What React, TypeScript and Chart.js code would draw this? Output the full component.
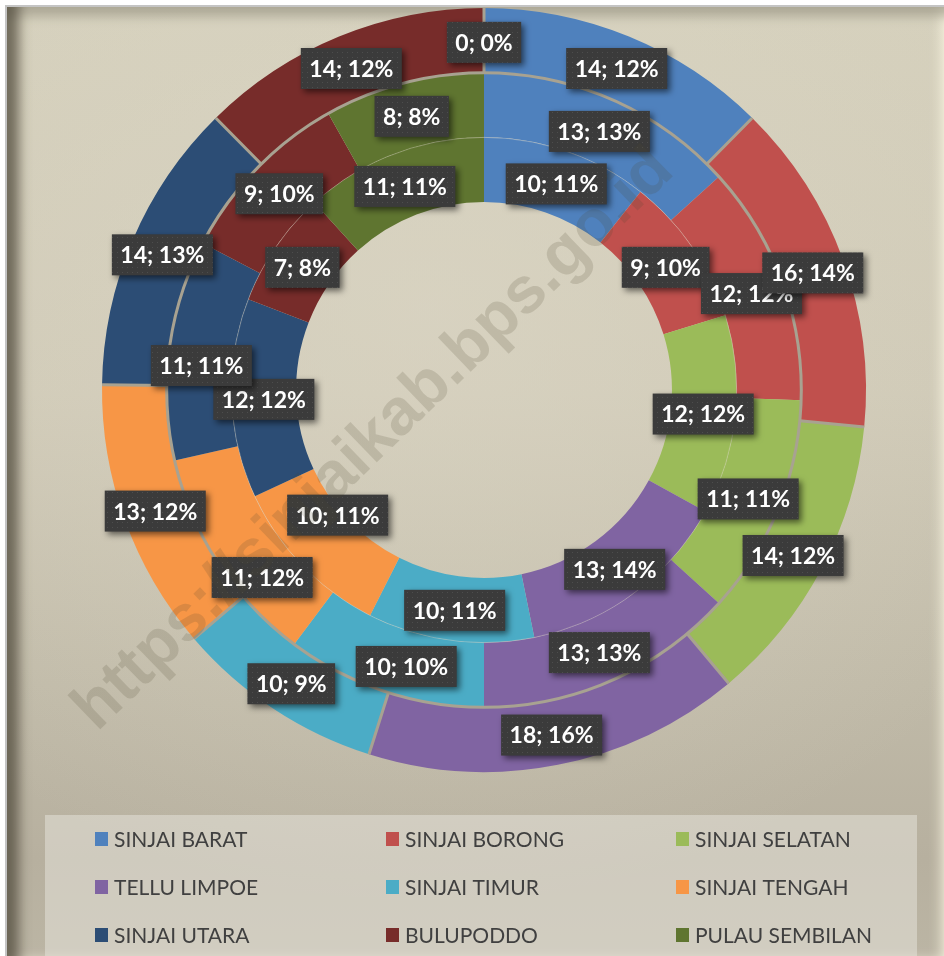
import React, { useEffect, useRef } from "react";
import { Chart, registerables } from "chart.js";

Chart.register(...registerables);

const categories = [
  "SINJAI BARAT",
  "SINJAI BORONG",
  "SINJAI SELATAN",
  "TELLU LIMPOE",
  "SINJAI TIMUR",
  "SINJAI TENGAH",
  "SINJAI UTARA",
  "BULUPODDO",
  "PULAU SEMBILAN",
];
const colors = ["#4F81BD", "#C0504D", "#9BBB59", "#8064A2", "#4BACC6", "#F79646", "#2C4D75", "#772C2A", "#5F7530"];

const outerValues = [14, 16, 14, 18, 10, 13, 14, 14, 0];
const outerPct = [12, 14, 12, 16, 9, 12, 13, 12, 0];
const middleValues = [13, 12, 11, 13, 10, 11, 11, 9, 8];
const middlePct = [13, 12, 11, 13, 10, 12, 11, 10, 8];
const innerValues = [10, 9, 12, 13, 10, 10, 12, 7, 11];
const innerPct = [11, 10, 12, 14, 11, 11, 12, 8, 11];
const pctSets = [outerPct, middlePct, innerPct];

// manual label nudges (ring-index -> [dx, dy]) as placed in the original
const labelNudges: Record<string, [number, number]> = {
  "1-4": [12, 4],
  "1-5": [17, 30],
  "1-6": [0, 10],
  "2-5": [12, -30],
};

const watermarkText = "https://sinjaikab.bps.go.id";

function makePattern(ctx: CanvasRenderingContext2D) {
  const c = document.createElement("canvas");
  c.width = 5;
  c.height = 5;
  const p = c.getContext("2d")!;
  p.fillStyle = "#3b3b3b";
  p.fillRect(0, 0, 5, 5);
  p.fillStyle = "#4d4d4d";
  p.fillRect(2, 2, 1, 1);
  return ctx.createPattern(c, "repeat");
}

const labelPlugin = {
  id: "boxLabels",
  afterDatasetsDraw(chart: any) {
    const ctx: CanvasRenderingContext2D = chart.ctx;
    // faint line between middle and inner ring
    const im = chart.getDatasetMeta(2);
    if (im.data.length) {
      const a: any = im.data[0];
      ctx.save();
      ctx.beginPath();
      ctx.arc(a.x, a.y, a.outerRadius, 0, Math.PI * 2);
      ctx.strokeStyle = "rgba(225,220,205,0.35)";
      ctx.lineWidth = 1;
      ctx.stroke();
      ctx.restore();
    }
    // gray separators of the outer ring
    const om = chart.getDatasetMeta(0);
    if (om.data.length) {
      ctx.save();
      ctx.strokeStyle = "#a8a291";
      ctx.lineWidth = 3;
      ctx.beginPath();
      om.data.forEach((a: any) => {
        const c = Math.cos(a.startAngle);
        const s = Math.sin(a.startAngle);
        ctx.moveTo(a.x + c * a.innerRadius, a.y + s * a.innerRadius);
        ctx.lineTo(a.x + c * a.outerRadius, a.y + s * a.outerRadius);
      });
      ctx.stroke();
      const a0: any = om.data[0];
      ctx.beginPath();
      ctx.arc(a0.x, a0.y, a0.innerRadius, 0, Math.PI * 2);
      ctx.stroke();
      ctx.restore();
    }
    const pattern = makePattern(ctx);
    for (let d = chart.data.datasets.length - 1; d >= 0; d--) {
      const meta = chart.getDatasetMeta(d);
      const ds = chart.data.datasets[d];
      meta.data.forEach((arc: any, i: number) => {
        const pos = arc.tooltipPosition(false);
        const nudge = labelNudges[`${d}-${i}`] || [0, 0];
        const cx = pos.x + nudge[0];
        const cy = pos.y + 2 + nudge[1];
        const text = `${ds.data[i]}; ${pctSets[d][i]}%`;
        ctx.save();
        ctx.font = "bold 23px Lato";
        const w = ctx.measureText(text).width + 17;
        const h = 41;
        const bx = cx - w / 2;
        const by = cy - h / 2;
        ctx.shadowColor = "rgba(0,0,0,0.55)";
        ctx.shadowBlur = 6;
        ctx.shadowOffsetX = 3;
        ctx.shadowOffsetY = 3;
        ctx.fillStyle = pattern || "#3b3b3b";
        ctx.fillRect(bx, by, w, h);
        ctx.shadowColor = "transparent";
        ctx.fillStyle = "#ffffff";
        ctx.textAlign = "center";
        ctx.textBaseline = "middle";
        ctx.fillText(text, cx, cy + 1);
        ctx.restore();
      });
    }
  },
};

const legendPlugin = {
  id: "gridLegend",
  afterDraw(chart: any) {
    const ctx: CanvasRenderingContext2D = chart.ctx;
    ctx.save();
    ctx.fillStyle = "rgba(232,230,222,0.5)";
    ctx.fillRect(45, 815, 872, 145);
    const cols = [95, 386, 676];
    const rows = [839, 887, 935];
    ctx.font = "21px Lato";
    ctx.textBaseline = "middle";
    ctx.textAlign = "left";
    chart.data.labels.forEach((lab: string, i: number) => {
      const x = cols[i % 3];
      const y = rows[Math.floor(i / 3)];
      ctx.fillStyle = colors[i];
      ctx.fillRect(x, y - 7, 13, 14);
      ctx.fillStyle = "#404040";
      ctx.fillText(lab, x + 19, y + 1);
    });
    ctx.restore();
  },
};

const watermarkPlugin = {
  id: "watermark",
  afterDraw(chart: any) {
    const ctx: CanvasRenderingContext2D = chart.ctx;
    ctx.save();
    ctx.font = "bold 60px 'Liberation Sans'";
    const tw = ctx.measureText(watermarkText).width;
    const target = 805;
    const size = (60 * target) / tw;
    ctx.font = `bold ${size}px 'Liberation Sans'`;
    ctx.translate(374, 440);
    ctx.rotate((-44 * Math.PI) / 180);
    ctx.textAlign = "center";
    ctx.textBaseline = "middle";
    ctx.fillStyle = "rgba(80,70,50,0.17)";
    ctx.fillText(watermarkText, 0, 0);
    ctx.restore();
  },
};

export default function App() {
  const ref = useRef<HTMLCanvasElement>(null);
  useEffect(() => {
    document.body.style.margin = "0";
    const chart = new Chart(ref.current!, {
      type: "doughnut",
      data: {
        labels: categories,
        datasets: [
          { data: outerValues, backgroundColor: colors, borderWidth: 0 },
          { data: middleValues, backgroundColor: colors, borderWidth: 0 },
          { data: innerValues, backgroundColor: colors, borderWidth: 0 },
        ],
      },
      options: {
        responsive: false,
        animation: false,
        cutout: "49.2%",
        layout: { padding: { left: 102, right: 78, top: 8, bottom: 184 } },
        plugins: { legend: { display: false }, tooltip: { enabled: false } },
      },
      plugins: [labelPlugin, legendPlugin, watermarkPlugin],
    } as any);
    let alive = true;
    const fonts: any = (document as any).fonts;
    if (fonts && fonts.load) {
      Promise.all([fonts.load("bold 23px Lato"), fonts.load("21px Lato"), fonts.load("bold 60px 'Liberation Sans'")]).then(() => {
        if (alive) chart.update();
      });
    }
    return () => {
      alive = false;
      chart.destroy();
    };
  }, []);

  return (
    <div style={{ position: "fixed", left: 0, top: 0, width: 944, height: 956, background: "#ffffff", overflow: "hidden" }}>
      <div
        style={{
          position: "absolute",
          left: 5,
          top: 5,
          width: 960,
          height: 970,
          boxSizing: "border-box",
          borderLeft: "2px solid #c4c4c4",
          borderTop: "2px solid #c4c4c4",
          background:
            "radial-gradient(ellipse 700px 600px at 420px 300px, rgba(220,215,198,0.6) 0%, rgba(220,215,198,0) 100%), linear-gradient(180deg, #d5d0bc 0%, #cfc9b6 40%, #c0baa8 70%, #b7b09f 88%, #bcb6a5 100%)",
          boxShadow:
            "inset 20px 0 12px -8px rgba(80,75,60,0.75), inset 0 18px 10px -8px rgba(150,145,128,0.55), inset -32px 0 14px -10px rgba(255,252,232,0.95), inset 0 -26px 12px -10px rgba(240,236,218,0.8)",
        }}
      />
      <canvas ref={ref} width={944} height={956} style={{ position: "absolute", left: 0, top: 0 }} />
    </div>
  );
}
